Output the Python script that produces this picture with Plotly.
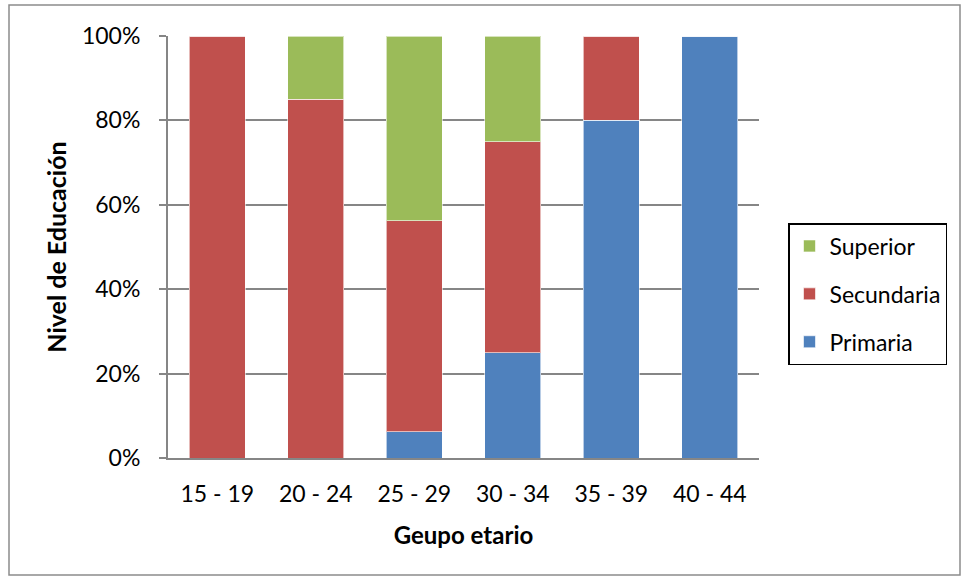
import plotly.graph_objects as go

# Age groups and share of each education level (%)
grupos = ["15 - 19", "20 - 24", "25 - 29", "30 - 34", "35 - 39", "40 - 44"]
primaria = [0, 0, 6.25, 25, 80, 100]
secundaria = [100, 85, 50, 50, 20, 0]
superior = [0, 15, 43.75, 25, 0, 0]
tick_vals = [0, 20, 40, 60, 80, 100]
tick_text = ["0%", "20%", "40%", "60%", "80%", "100%"]

FONT = "Lato"
FS = 23
W, H = 965, 579
L, R, T, B = 168, 206, 36, 121
pw, ph = W - L - R, H - T - B

fig = go.Figure()
# stacked bottom-to-top; legend lists the top segment first
series = [
    ("Primaria", primaria, "#4F81BD", 3),
    ("Secundaria", secundaria, "#C0504D", 2),
    ("Superior", superior, "#9BBB59", 1),
]
for name, vals, color, rank in series:
    fig.add_trace(go.Bar(
        x=grupos, y=vals, name=name, legendgroup=name, legendrank=rank,
        marker=dict(color=color, line=dict(color="rgba(255,255,255,0.6)", width=1)),
    ))

# Outer chart frame
fig.add_shape(type="rect", xref="paper", yref="paper",
              x0=(9 - L) / pw, x1=(960 - L) / pw,
              y0=(H - B - 575) / ph, y1=(H - B - 5) / ph,
              line=dict(color="#8C8C8C", width=1.5), fillcolor="rgba(0,0,0,0)",
              layer="below")

fig.update_layout(
    width=W, height=H,
    barmode="stack", bargap=0.43,
    margin=dict(l=L, r=R, t=T, b=B),
    paper_bgcolor="white", plot_bgcolor="white",
    font=dict(family=FONT, size=FS, color="black"),
    legend=dict(
        traceorder="grouped", tracegroupgap=15,
        x=(788 - L) / pw, xanchor="left",
        y=(H - B - 223) / ph, yanchor="top",
        bordercolor="black", borderwidth=1.5,
        font=dict(family=FONT, size=FS),
    ),
    xaxis=dict(
        showline=True, linecolor="#868686", linewidth=2,
        ticks="", tickfont=dict(size=FS), ticklabelstandoff=14,
        title=dict(text="<b>Geupo etario</b>", font=dict(size=24), standoff=22),
    ),
    yaxis=dict(
        range=[0, 100], tickvals=tick_vals, ticktext=tick_text,
        showline=True, linecolor="#868686", linewidth=2,
        ticks="outside", ticklen=7, tickcolor="#868686", tickwidth=1.5,
        ticklabelstandoff=14,
        showgrid=True, gridcolor="#868686", gridwidth=1.5,
        tickfont=dict(size=FS),
        title=dict(text="<b>Nivel de Educación</b>", font=dict(size=25), standoff=8),
    ),
)

fig.write_html("out.html")
